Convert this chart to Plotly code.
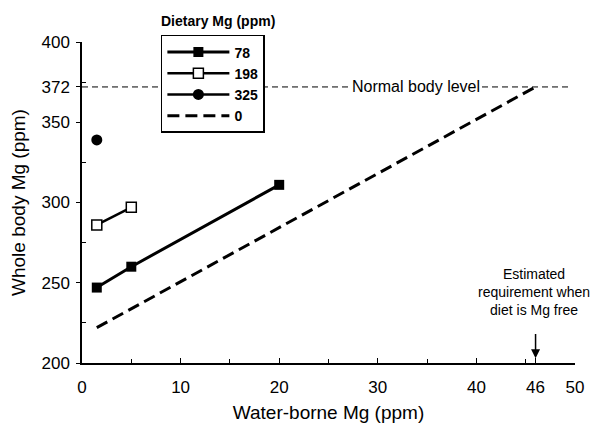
import plotly.graph_objects as go

# Data
x78 = [1.5, 5, 20]
y78 = [247, 260, 311]
x198 = [1.5, 5]
y198 = [286, 297]
x325 = [1.5]
y325 = [339]
x0 = [1.5, 46]
y0 = [222, 372]
normal_x = [0, 49.5]
normal_y = [372, 372]

xtick_vals = [0, 10, 20, 30, 40, 46, 50]
xtick_text = ["0", "10", "20", "30", "40", "46", "50"]
ytick_vals = [200, 250, 300, 350, 372, 400]
ytick_text = ["200", "250", "300", "350", "372", "400"]

FONT = "Liberation Sans, Arial, Helvetica, sans-serif"

fig = go.Figure()

fig.add_trace(go.Scatter(x=normal_x, y=normal_y, mode="lines",
                         line=dict(color="black", width=1, dash="6px,4px"),
                         showlegend=False, hoverinfo="skip"))
fig.add_trace(go.Scatter(x=x78, y=y78, mode="lines+markers", name="<b>78</b>",
                         line=dict(color="black", width=3),
                         marker=dict(symbol="square", size=10, color="black")))
fig.add_trace(go.Scatter(x=x198, y=y198, mode="lines+markers", name="<b>198</b>",
                         line=dict(color="black", width=2.5),
                         marker=dict(symbol="square", size=10, color="white",
                                     line=dict(color="black", width=1.5))))
fig.add_trace(go.Scatter(x=x325, y=y325, mode="lines+markers", name="<b>325</b>",
                         line=dict(color="black", width=2.5),
                         marker=dict(symbol="circle", size=11, color="black")))
fig.add_trace(go.Scatter(x=x0, y=y0, mode="lines", name="<b>0</b>",
                         line=dict(color="black", width=3, dash="12px,6px")))

fig.add_annotation(x=33.9, y=372, text="Normal body level", showarrow=False,
                   bgcolor="white", font=dict(family=FONT, size=16, color="black"),
                   borderpad=0)
fig.add_annotation(x=46, y=203, ax=46, ay=219, axref="x", ayref="y",
                   text="", showarrow=True, arrowhead=2, arrowsize=1.2,
                   arrowwidth=1.5, arrowcolor="black")
fig.add_annotation(x=45.8, y=244, text="Estimated<br>requirement when<br>diet is Mg free",
                   showarrow=False, font=dict(family=FONT, size=14, color="black"),
                   align="center")
fig.add_annotation(x=0.276, y=1.066, xref="paper", yref="paper",
                   xanchor="center", yanchor="middle",
                   text="<b>Dietary Mg (ppm)</b>", showarrow=False,
                   font=dict(family=FONT, size=14, color="black"))

fig.update_layout(
    width=594, height=415,
    margin=dict(l=74, r=27, t=34, b=60, autoexpand=False),
    paper_bgcolor="white", plot_bgcolor="white",
    font=dict(family=FONT, size=17, color="black"),
    legend=dict(x=0.16, y=1.022, xanchor="left", yanchor="top",
                bordercolor="black", borderwidth=1.5, bgcolor="white",
                font=dict(family=FONT, size=14, color="black"),
                itemwidth=62, tracegroupgap=0),
    xaxis=dict(range=[0, 50], showline=True, linecolor="black", linewidth=1.5,
               showgrid=False, zeroline=False, tickvals=xtick_vals, ticktext=xtick_text,
               ticks="inside", ticklen=5, tickcolor="black", automargin=False,
               minor=dict(tickvals=[5, 15, 25, 35, 45], ticks="inside", ticklen=4,
                          tickcolor="black"),
               ticklabelstandoff=8,
               title=dict(text="Water-borne Mg (ppm)", standoff=12,
                          font=dict(family=FONT, size=19))),
    yaxis=dict(range=[200, 400], showline=True, linecolor="black", linewidth=1.5,
               showgrid=False, zeroline=False, tickvals=ytick_vals, ticktext=ytick_text,
               ticks="outside", ticklen=4, tickcolor="black", automargin=False,
               minor=dict(tickvals=[225, 275, 325, 375], ticks="inside", ticklen=4,
                          tickcolor="black"),
               ticklabelstandoff=3,
               title=dict(text="Whole body Mg (ppm)", standoff=12,
                          font=dict(family=FONT, size=19))),
)

fig.write_html("out.html")
